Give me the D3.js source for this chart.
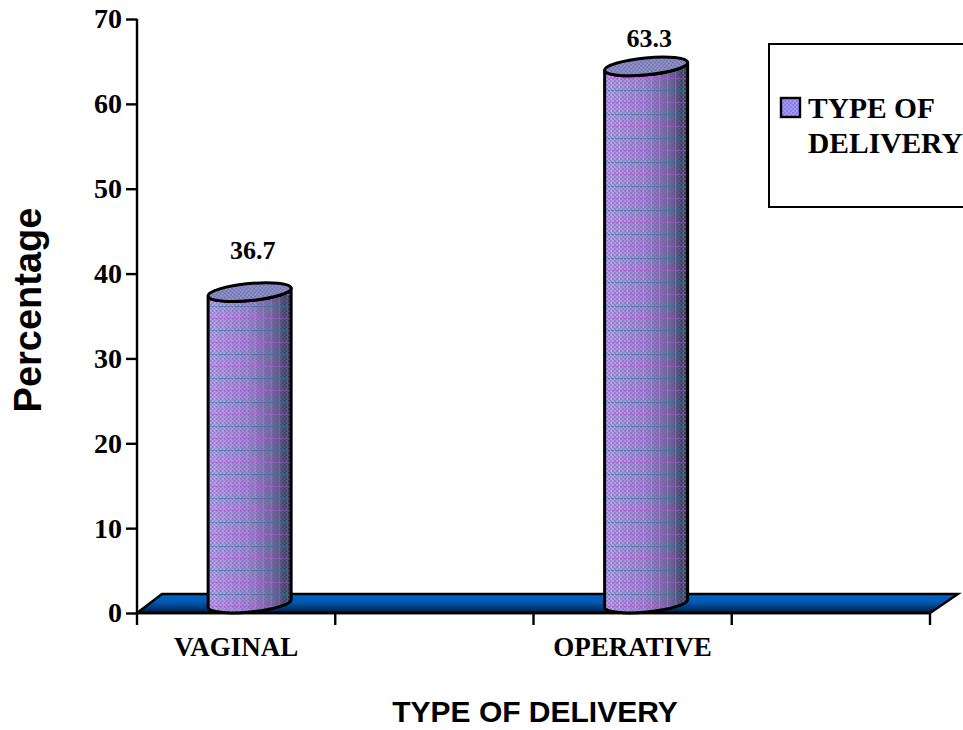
<!DOCTYPE html>
<html>
<head>
<meta charset="utf-8">
<script src="https://cdn.jsdelivr.net/npm/d3@7"></script>
<style>
html,body{margin:0;padding:0;background:#fff;overflow:hidden}
svg{display:block}
.serif{font-family:"Liberation Serif",serif;font-weight:700;fill:#000}
.sans{font-family:"Liberation Sans",Arial,sans-serif;font-weight:700;fill:#000}
</style>
</head>
<body>
<svg id="chart" width="963" height="730"></svg>
<script>
// Chart data
const categories = ["VAGINAL", "blank-a", "OPERATIVE", "blank-b"];
const deliveryTypes = ["VAGINAL", "OPERATIVE"];
const percentages = [36.7, 63.3];
const yTicks = [0, 10, 20, 30, 40, 50, 60, 70];
const yTitle = "Percentage";
const xTitle = "TYPE OF DELIVERY";
const legendLines = ["TYPE OF", "DELIVERY"];

const svg = d3.select("#chart");
const defs = svg.append("defs");

const y = d3.scaleLinear().domain([0, 70]).range([613, 19]);
const x = d3.scaleBand().domain(categories).range([137, 930]).padding(0);

// Oblique depth of the pseudo-3D plot
const depthX = 25, depthY = 19;
const cylRx = 41.7, cylRy = 8.5, tilt = -5.5;
const tiltRad = tilt * Math.PI / 180;

// Horizontal shading across a cylinder
const bodyGrad = defs.append("linearGradient").attr("id", "bodyShade");
[[0, "#cc9af6"], [0.5, "#b27edc"], [0.8, "#7c589e"], [1, "#33254a"]].forEach(([o, c]) =>
  bodyGrad.append("stop").attr("offset", o).attr("stop-color", c));

// Floor shading, bright on top and dark at the front edge
const floorGrad = defs.append("linearGradient").attr("id", "floorShade")
  .attr("x1", 0).attr("x2", 0).attr("y1", 0).attr("y2", 1);
[[0, "#0066cc"], [0.45, "#0058ad"], [1, "#001c45"]].forEach(([o, c]) =>
  floorGrad.append("stop").attr("offset", o).attr("stop-color", c));

// Woven dither: teal dots with faint recurring magenta and teal rows
const weave = defs.append("pattern").attr("id", "weave")
  .attr("patternUnits", "userSpaceOnUse").attr("width", 16).attr("height", 24);
for (let j = 0; j < 24; j += 2) {
  for (let i = (j % 4 === 0 ? 0 : 2); i < 16; i += 4) {
    weave.append("rect").attr("x", i).attr("y", j).attr("width", 2).attr("height", 2)
      .attr("fill", "#3c7c8c").attr("fill-opacity", 0.5);
  }
}
[5, 13].forEach(cx =>
  weave.append("rect").attr("x", cx).attr("y", 0).attr("width", 1).attr("height", 24)
    .attr("fill", "#e4d4f0").attr("fill-opacity", 0.22));
for (let i = 0; i < 16; i += 3) {
  weave.append("rect").attr("x", i).attr("y", 6).attr("width", 2).attr("height", 1)
    .attr("fill", "#e040f0").attr("fill-opacity", 0.55);
  weave.append("rect").attr("x", i + 1).attr("y", 18).attr("width", 2).attr("height", 1)
    .attr("fill", "#00908c").attr("fill-opacity", 0.8);
}

// Tight checker on the cylinder caps
const dots = defs.append("pattern").attr("id", "dots")
  .attr("patternUnits", "userSpaceOnUse").attr("width", 4).attr("height", 4);
dots.append("rect").attr("width", 4).attr("height", 4).attr("fill", "#a884dc");
dots.append("rect").attr("width", 2).attr("height", 2).attr("fill", "#5f86a0");
dots.append("rect").attr("x", 2).attr("y", 2).attr("width", 2).attr("height", 2).attr("fill", "#5f86a0");

// Lighter checker on the legend key
const keyDots = defs.append("pattern").attr("id", "keyDots")
  .attr("patternUnits", "userSpaceOnUse").attr("width", 4).attr("height", 4);
keyDots.append("rect").attr("width", 4).attr("height", 4).attr("fill", "#b090f8");
keyDots.append("rect").attr("width", 2).attr("height", 2).attr("fill", "#7f88e0");
keyDots.append("rect").attr("x", 2).attr("y", 2).attr("width", 2).attr("height", 2).attr("fill", "#7f88e0");

// Floor of the plot
const floorPts = [
  [x.range()[0], y(0)],
  [x.range()[0] + depthX, y(0) - depthY],
  [x.range()[1] + depthX + 3, y(0) - depthY],
  [x.range()[1], y(0)]
];
svg.append("path")
  .attr("d", d3.line()(floorPts) + "Z")
  .attr("fill", "url(#floorShade)")
  .attr("stroke", "#000").attr("stroke-width", 2.4).attr("stroke-linejoin", "miter");

// Value axis
const yAxis = svg.append("g").attr("transform", `translate(${x.range()[0]},0)`)
  .call(d3.axisLeft(y).tickValues(yTicks).tickSize(11).tickPadding(4).tickFormat(d3.format("d")));
yAxis.selectAll("path,line").attr("stroke", "#000").attr("stroke-width", 2.4);
yAxis.selectAll("text").attr("class", "serif")
  .style("font-size", "28px").attr("dy", "0.32em");
yAxis.select("path").attr("d", `M0,${y(70)}V${y(0)}`);

// Category axis: ticks on the band edges
const xEdges = categories.map(c => x(c)).concat(x.range()[1]);
const xAxis = svg.append("g").attr("transform", `translate(0,${y(0)})`);
xAxis.append("line").attr("x1", x.range()[0]).attr("x2", x.range()[1])
  .attr("stroke", "#000").attr("stroke-width", 2.4);
xAxis.selectAll(".edge").data(xEdges).join("line").attr("class", "edge")
  .attr("x1", d => d).attr("x2", d => d).attr("y1", 0).attr("y2", 12)
  .attr("stroke", "#000").attr("stroke-width", 2.4);
svg.selectAll(".cat").data(deliveryTypes).join("text")
  .attr("class", "cat serif").attr("text-anchor", "middle")
  .attr("x", d => x(d) + x.bandwidth() / 2).attr("y", 656)
  .style("font-size", "27px").text(d => d);

// Cylinders
const cylinder = svg.selectAll(".cyl").data(deliveryTypes.map((d, i) => ({ d, v: percentages[i] })))
  .join("g").attr("class", "cyl")
  .attr("transform", r => `translate(${x(r.d) + x.bandwidth() / 2 + depthX / 2 + 1},0)`);

const dx = cylRx * Math.cos(tiltRad), dy = cylRx * Math.sin(tiltRad);
const bodyPath = r => {
  const top = y(r.v) - depthY / 2, bottom = y(0) - depthY / 2;
  return `M${-dx},${top - dy}L${-dx},${bottom - dy}` +
    `A${cylRx},${cylRy} ${tilt} 0 0 ${dx},${bottom + dy}` +
    `L${dx},${top + dy}A${cylRx},${cylRy} ${tilt} 0 1 ${-dx},${top - dy}Z`;
};
cylinder.append("path").attr("d", bodyPath).attr("fill", "url(#bodyShade)");
cylinder.append("path").attr("d", bodyPath).attr("fill", "url(#weave)")
  .attr("stroke", "#000").attr("stroke-width", 3).attr("stroke-linejoin", "round");
cylinder.append("ellipse")
  .attr("rx", cylRx).attr("ry", cylRy)
  .attr("transform", r => `translate(0,${y(r.v) - depthY / 2}) rotate(${tilt})`)
  .attr("fill", "url(#dots)").attr("stroke", "#000").attr("stroke-width", 3);

// Value labels above the cylinders
cylinder.append("text").attr("class", "serif").attr("text-anchor", "middle")
  .attr("x", 3).attr("y", r => y(r.v) - (r.v > 50 ? 29 : 43))
  .style("font-size", "26px").text(r => r.v.toFixed(1));

// Axis titles
svg.append("text").attr("class", "sans").attr("text-anchor", "middle")
  .attr("transform", "translate(41,310) rotate(-90)")
  .style("font-size", "38px").text(yTitle);
svg.append("text").attr("class", "sans").attr("text-anchor", "middle")
  .attr("x", 535).attr("y", 722)
  .style("font-size", "30px").text(xTitle);

// Legend box runs past the right edge of the page
const legend = svg.append("g");
legend.append("rect").attr("x", 769).attr("y", 44).attr("width", 240).attr("height", 163)
  .attr("fill", "#fff").attr("stroke", "#000").attr("stroke-width", 2);
legend.append("rect").attr("x", 781).attr("y", 98).attr("width", 19).attr("height", 19)
  .attr("fill", "url(#keyDots)").attr("stroke", "#000").attr("stroke-width", 2.4);
legend.selectAll(".lg").data(legendLines).join("text")
  .attr("class", "lg serif").attr("x", 808).attr("y", (d, i) => 118 + i * 35)
  .style("font-size", "29.5px").text(d => d);
</script>
</body>
</html>
